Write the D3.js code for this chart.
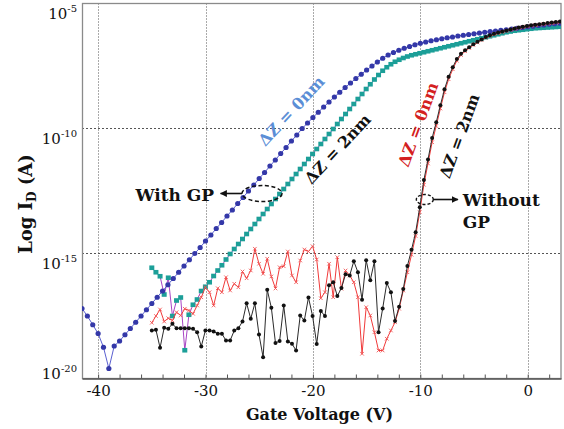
<!DOCTYPE html>
<html><head><meta charset="utf-8">
<script src="https://cdn.jsdelivr.net/npm/d3@7"></script>
<style>
body{margin:0;background:#fff}
svg{display:block}
text{font-family:"DejaVu Serif",serif;fill:#111}
</style></head><body>
<svg id="chart" width="564" height="429"></svg>
<script>
// Gate-voltage sweeps (V)
const sweepGp0 = d3.range(90).map(i => -41.5 + 0.5 * i);
const sweep = d3.range(100).map(i => -35 + 38 / 99 * i);

// log10 of drain current (A)
const logIdGpDz0 = [
  -17.2,-17.5,-17.85,-18.2,-18.75,-19.6,-18.7,-18.5,-18.25,-18.0,
  -17.75,-17.5,-17.25,-17.0,-16.75,-16.5,-16.25,-16.0,-15.75,-15.5,
  -15.25,-15.0,-14.76,-14.5,-14.26,-14.0,-13.76,-13.5,-13.26,-13.0,
  -12.76,-12.5,-12.26,-12.0,-11.76,-11.5,-11.26,-11.0,-10.76,-10.5,
  -10.26,-10.0,-9.78,-9.56,-9.35,-9.14,-8.94,-8.74,-8.55,-8.36,
  -8.18,-8.0,-7.83,-7.66,-7.5,-7.34,-7.19,-7.06,-6.96,-6.87,
  -6.79,-6.72,-6.65,-6.59,-6.54,-6.49,-6.45,-6.41,-6.37,-6.34,
  -6.3,-6.27,-6.24,-6.21,-6.18,-6.15,-6.12,-6.1,-6.07,-6.05,
  -6.02,-5.99,-5.96,-5.93,-5.91,-5.88,-5.86,-5.83,-5.81,-5.79
];
const logIdGpDz2 = [
  -15.57,-15.75,-15.91,-16.64,-15.97,-17.5,-16.88,-16.76,-18.87,-17.45,
  -17.05,-16.84,-16.5,-16.33,-16.15,-15.9,-15.68,-15.47,-15.24,-15.02,
  -14.82,-14.62,-14.42,-14.22,-14.02,-13.82,-13.62,-13.42,-13.22,-13.02,
  -12.82,-12.62,-12.42,-12.22,-12.02,-11.82,-11.62,-11.42,-11.22,-11.02,
  -10.82,-10.62,-10.42,-10.22,-10.02,-9.82,-9.62,-9.42,-9.22,-9.02,
  -8.82,-8.62,-8.42,-8.23,-8.04,-7.86,-7.69,-7.55,-7.43,-7.33,
  -7.25,-7.18,-7.12,-7.07,-7.03,-6.99,-6.95,-6.91,-6.87,-6.83,
  -6.79,-6.75,-6.71,-6.67,-6.63,-6.59,-6.55,-6.51,-6.47,-6.43,
  -6.39,-6.35,-6.31,-6.27,-6.23,-6.19,-6.15,-6.12,-6.09,-6.07,
  -6.05,-6.03,-6.01,-5.99,-5.98,-5.97,-5.96,-5.95,-5.94,-5.93
];
const logIdNoGpDz0 = [
  -17.77,-17.5,-17.24,-17.72,-17.59,-17.68,-17.35,-17.48,-17.21,-17.28,
  -17.41,-17.08,-16.75,-16.35,-16.55,-17.08,-16.39,-16.55,-15.95,-16.48,
  -16.21,-16.35,-15.72,-15.99,-15.68,-14.81,-15.41,-15.81,-15.21,-15.92,
  -16.4,-15.55,-15.51,-14.92,-15.88,-16.15,-15.28,-14.84,-14.92,-14.71,
  -15.24,-16.79,-16.55,-15.41,-16.75,-15.15,-16.41,-15.68,-15.88,-16.15,
  -16.75,-19.01,-17.15,-17.48,-18.15,-18.88,-18.88,-18.41,-18.08,-17.75,
  -17.21,-16.48,-15.75,-15.05,-14.3,-13.35,-12.25,-11.4,-10.55,-9.9,
  -9.2,-8.55,-8.03,-7.63,-7.29,-7.06,-6.91,-6.78,-6.66,-6.56,
  -6.46,-6.37,-6.3,-6.24,-6.19,-6.14,-6.1,-6.06,-6.02,-5.98,
  -5.95,-5.92,-5.89,-5.87,-5.85,-5.83,-5.81,-5.79,-5.77,-5.75
];
const logIdNoGpDz2 = [
  -18.08,-18.05,-18.77,-17.97,-18.01,-17.81,-17.99,-17.99,-17.99,-17.99,
  -18.01,-18.15,-18.72,-18.08,-18.08,-18.12,-18.21,-18.21,-18.48,-18.48,
  -18.08,-17.99,-17.72,-16.99,-17.61,-16.99,-18.24,-19.15,-16.45,-17.17,
  -18.58,-18.5,-17.08,-18.52,-18.61,-18.88,-17.48,-17.68,-16.76,-17.5,
  -18.62,-17.3,-17.5,-16.27,-16.15,-16.7,-16.38,-15.83,-15.88,-15.31,
  -15.75,-16.85,-15.27,-16.07,-15.31,-18.15,-17.2,-16.18,-16.55,-17.7,
  -17.13,-16.42,-15.5,-14.85,-14.15,-13.15,-12.06,-11.24,-10.38,-9.75,
  -9.07,-8.43,-7.93,-7.55,-7.22,-7.01,-6.87,-6.75,-6.63,-6.53,
  -6.44,-6.34,-6.27,-6.21,-6.16,-6.12,-6.08,-6.04,-6.0,-5.96,
  -5.93,-5.9,-5.87,-5.85,-5.83,-5.81,-5.78,-5.76,-5.74,-5.72
];

const xLabelTicks = [-40, -30, -20, -10, 0];
const xMinorTicks = d3.range(-40, 3, 2);
const yDecades = [-20, -15, -10, -5];

const svg = d3.select("#chart");
const L = 82, R = 561, T = 3.5, B = 378.5;
const x = d3.scaleLinear().domain([-41.5, 3.1]).range([L, R]);
const y = d3.scaleLog().domain([1e-20, 1e-5]).range([B, T]);

const defs = svg.append("defs");
defs.append("clipPath").attr("id", "plotClip")
  .append("rect").attr("x", L).attr("y", T).attr("width", R - L).attr("height", B - T);
defs.append("marker").attr("id", "arrowHead").attr("viewBox", "0 0 10 10")
  .attr("refX", 9).attr("refY", 5).attr("markerWidth", 7).attr("markerHeight", 7)
  .attr("markerUnits", "userSpaceOnUse").attr("orient", "auto")
  .append("path").attr("d", "M0,0L10,5L0,10z").attr("fill", "#111");

// grid
const grid = svg.append("g");
grid.selectAll("line.v").data(xLabelTicks).join("line")
  .attr("x1", d => Math.round(x(d)) + 0.5).attr("x2", d => Math.round(x(d)) + 0.5)
  .attr("y1", T).attr("y2", B)
  .attr("stroke", "#555").attr("stroke-width", 1).attr("stroke-dasharray", "1,2");
grid.selectAll("line.h").data(yDecades.filter(d => d > -20 && d < -5)).join("line")
  .attr("x1", L).attr("x2", R)
  .attr("y1", d => Math.round(y(10 ** d)) + 0.5).attr("y2", d => Math.round(y(10 ** d)) + 0.5)
  .attr("stroke", "#555").attr("stroke-width", 1).attr("stroke-dasharray", "2,2");

// frame
svg.append("rect").attr("x", L + 0.5).attr("y", T).attr("width", R - L - 0.5).attr("height", B - T)
  .attr("fill", "none").attr("stroke", "#8a8a8a").attr("stroke-width", 1.3);

// x axis
const xAxis = d3.axisBottom(x).tickValues(xMinorTicks)
  .tickSizeInner(-4).tickSizeOuter(0).tickPadding(7)
  .tickFormat(d => xLabelTicks.includes(d) ? String(d) : "");
const gx = svg.append("g").attr("transform", `translate(0,${B})`).call(xAxis);
gx.select(".domain").attr("stroke", "#555").attr("stroke-width", 1.3);
gx.selectAll(".tick line").attr("stroke", "#555");
gx.selectAll(".tick text").attr("font-family", "DejaVu Serif").attr("font-size", 15).attr("fill", "#111");

// y tick labels (decades)
const yl = svg.append("g").selectAll("text").data(yDecades).join("text")
  .attr("x", 77).attr("y", d => Math.min(y(10 ** d) + 15, B))
  .attr("text-anchor", "end").attr("font-size", 15);
yl.append("tspan").text("10");
yl.append("tspan").attr("font-size", 10).attr("dy", -7).text(d => String(d));

// axis titles
svg.append("text").attr("x", (L + R) / 2 - 2).attr("y", 420)
  .attr("text-anchor", "middle").attr("font-weight", "bold").attr("font-size", 16)
  .text("Gate Voltage (V)");
const yt = svg.append("text").attr("transform", "translate(32,204) rotate(-90)")
  .attr("text-anchor", "middle").attr("font-weight", "bold").attr("font-size", 18);
yt.append("tspan").text("Log I");
yt.append("tspan").attr("font-size", 12).attr("dy", 4).text("D");
yt.append("tspan").attr("dy", -4).text(" (A)");

// series
const plot = svg.append("g").attr("clip-path", "url(#plotClip)");
const toPts = (vg, vals) => vg.map((v, i) => ({ v, id: 10 ** vals[i] }));
const line = d3.line().x(d => x(d.v)).y(d => y(d.id));

const gp2 = toPts(sweep, logIdGpDz2);
const gp0 = toPts(sweepGp0, logIdGpDz0);
const ng0 = toPts(sweep, logIdNoGpDz0);
const ng2 = toPts(sweep, logIdNoGpDz2);

plot.append("path").datum(gp2).attr("d", line).attr("fill", "none")
  .attr("stroke", "#a844c4").attr("stroke-width", 1);
plot.selectAll("rect.gp2").data(gp2).join("rect")
  .attr("x", d => x(d.v) - 2.5).attr("y", d => y(d.id) - 2.3)
  .attr("width", 5).attr("height", 4.6).attr("fill", "#1c9f98");

plot.append("path").datum(gp0).attr("d", line).attr("fill", "none")
  .attr("stroke", "#5a5fd0").attr("stroke-width", 1);
plot.selectAll("circle.gp0").data(gp0).join("circle")
  .attr("cx", d => x(d.v)).attr("cy", d => y(d.id)).attr("r", 2.6).attr("fill", "#3438a8");

plot.append("path").datum(ng0).attr("d", line).attr("fill", "none")
  .attr("stroke", "#f03a3a").attr("stroke-width", 1);
plot.selectAll("path.ng0").data(ng0).join("path")
  .attr("transform", d => `translate(${x(d.v)},${y(d.id)})`)
  .attr("d", d3.symbol(d3.symbolX, 10)).attr("fill", "none")
  .attr("stroke", "#f05555").attr("stroke-width", 0.9);

plot.append("path").datum(ng2).attr("d", line).attr("fill", "none")
  .attr("stroke", "#2a2a2a").attr("stroke-width", 1);
plot.selectAll("circle.ng2").data(ng2).join("circle")
  .attr("cx", d => x(d.v)).attr("cy", d => y(d.id)).attr("r", 2).attr("fill", "#111");

// annotations (anchors in data units)
const ann = svg.append("g");
const rotLabel = (v, lg, angle, color, txt) =>
  ann.append("text").attr("transform", `translate(${x(v)},${y(10 ** lg)}) rotate(${angle})`)
    .attr("text-anchor", "middle").attr("dominant-baseline", "central")
    .attr("font-weight", "bold").attr("font-size", 16).style("fill", color).text(txt);
rotLabel(-22.0, -9.3, -47, "#5b8ed6", "\u0394Z = 0nm");
rotLabel(-17.7, -10.82, -47, "#111", "\u0394Z = 2nm");
rotLabel(-10.2, -9.84, -70, "#d42020", "\u0394Z = 0nm");
rotLabel(-6.35, -10.3, -70, "#111", "\u0394Z = 2nm");

ann.append("ellipse").attr("cx", x(-24.74)).attr("cy", y(10 ** -12.6)).attr("rx", 20).attr("ry", 8)
  .attr("fill", "none").attr("stroke", "#111").attr("stroke-width", 1.5).attr("stroke-dasharray", "4,2.5");
ann.append("line").attr("x1", x(-26.6)).attr("x2", x(-28.6))
  .attr("y1", y(10 ** -12.6)).attr("y2", y(10 ** -12.6))
  .attr("stroke", "#111").attr("stroke-width", 1.6).attr("marker-end", "url(#arrowHead)");
ann.append("text").attr("x", x(-29.2)).attr("y", y(10 ** -12.88))
  .attr("text-anchor", "end").attr("font-weight", "bold").attr("font-size", 17).text("With GP");

ann.append("ellipse").attr("cx", x(-9.58)).attr("cy", y(10 ** -12.84)).attr("rx", 8.5).attr("ry", 5)
  .attr("fill", "none").attr("stroke", "#111").attr("stroke-width", 1.4).attr("stroke-dasharray", "3,2");
ann.append("line").attr("x1", x(-8.75)).attr("x2", x(-6.5))
  .attr("y1", y(10 ** -12.84)).attr("y2", y(10 ** -12.84))
  .attr("stroke", "#111").attr("stroke-width", 1.6).attr("marker-end", "url(#arrowHead)");
ann.append("text").attr("x", x(-6.05)).attr("y", y(10 ** -13.08))
  .attr("font-weight", "bold").attr("font-size", 17).text("Without");
ann.append("text").attr("x", x(-6.05)).attr("y", y(10 ** -13.96))
  .attr("font-weight", "bold").attr("font-size", 17).text("GP");
</script>
</body></html>
